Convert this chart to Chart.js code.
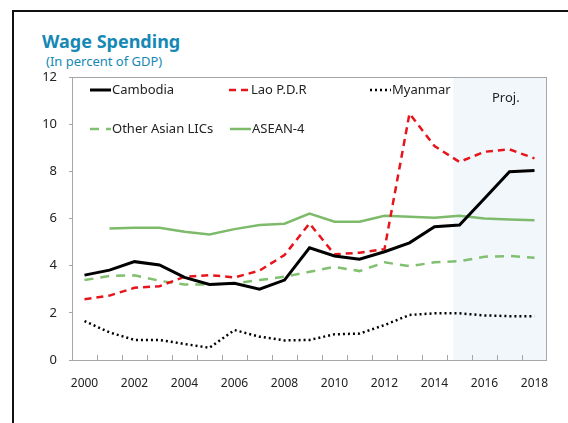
<!DOCTYPE html>
<html>
<head>
<meta charset="utf-8">
<script src="https://cdn.jsdelivr.net/npm/chart.js@4"></script>
<style>
  body { margin: 0; background: #fff; }
  #wrap { position: relative; width: 568px; height: 423px; overflow: hidden; font-family: "Noto Sans", sans-serif; }
  #frame { position: absolute; left: 12px; top: 10px; width: 600px; height: 450px; border: 2px solid #111; }
  #title { position: absolute; left: 42px; top: 29px; font-size: 18px; font-weight: bold; color: #1589b4; }
  #sub { position: absolute; left: 46px; top: 52px; font-size: 13px; color: #1589b4; }
  canvas { position: absolute; left: 0; top: 0; }
</style>
</head>
<body>
<div id="wrap">
  <div id="frame"></div>
  <div id="title">Wage Spending</div>
  <div id="sub">(In percent of GDP)</div>
  <canvas id="c" width="568" height="423"></canvas>
</div>
<script>
const years = ['2000','2001','2002','2003','2004','2005','2006','2007','2008','2009',
               '2010','2011','2012','2013','2014','2015','2016','2017','2018'];
const cambodia = [3.6, 3.81, 4.17, 4.03, 3.5, 3.2, 3.25, 3.0, 3.39, 4.76, 4.41, 4.27, 4.59, 4.97, 5.65, 5.72, 6.85, 7.98, 8.04];
const lao = [2.58, 2.73, 3.06, 3.13, 3.53, 3.6, 3.5, 3.79, 4.45, 5.79, 4.48, 4.55, 4.7, 10.45, 9.07, 8.4, 8.83, 8.93, 8.55];
const myanmar = [1.65, 1.17, 0.85, 0.85, 0.68, 0.52, 1.27, 0.99, 0.83, 0.85, 1.09, 1.12, 1.48, 1.91, 1.98, 1.98, 1.89, 1.86, 1.86];
const otherLics = [3.39, 3.56, 3.59, 3.36, 3.2, 3.2, 3.25, 3.39, 3.53, 3.74, 3.95, 3.77, 4.14, 3.98, 4.14, 4.19, 4.38, 4.41, 4.34];
const asean4 = [null, 5.58, 5.61, 5.61, 5.44, 5.32, 5.55, 5.72, 5.78, 6.21, 5.86, 5.86, 6.12, 6.07, 6.03, 6.12, 6.0, 5.96, 5.93];
const projStart = '2015';

const FONT = '"Noto Sans", sans-serif';

const series = [
  { label: 'Cambodia', data: cambodia, color: '#000000', width: 3, dash: [] },
  { label: 'Lao P.D.R', data: lao, color: '#e8141c', width: 2.5, dash: [7, 5] },
  { label: 'Myanmar', data: myanmar, color: '#000000', width: 2.5, dash: [2, 3] },
  { label: 'Other Asian LICs', data: otherLics, color: '#80c070', width: 2.5, dash: [9, 7] },
  { label: 'ASEAN-4', data: asean4, color: '#7dbb6b', width: 2.5, dash: [] }
];

// legend slots: [x of sample start, baseline row]
const legendPos = [[90, 90], [229, 90], [370, 90], [90, 129], [230, 129]];

const extras = {
  id: 'extras',
  beforeDatasetsDraw(chart) {
    const { ctx, chartArea: a, scales: { x } } = chart;
    const step = x.getPixelForValue(1) - x.getPixelForValue(0);
    const px = x.getPixelForValue(years.indexOf(projStart)) - step * 0.25;
    ctx.save();
    ctx.fillStyle = '#f2f7fb';
    ctx.fillRect(px, a.top, a.right - px, a.bottom - a.top);
    ctx.restore();
  },
  afterDraw(chart) {
    const { ctx, chartArea: a, scales: { x } } = chart;
    const step = x.getPixelForValue(1) - x.getPixelForValue(0);
    ctx.save();
    // box
    ctx.strokeStyle = '#a6a6a6';
    ctx.lineWidth = 1;
    ctx.strokeRect(a.left + 0.5, a.top + 0.5, a.right - a.left - 1, a.bottom - a.top);
    // inner ticks on x axis
    ctx.beginPath();
    for (let i = 1; i < years.length; i++) {
      const tx = Math.round(x.getPixelForValue(i) - step / 2) + 0.5;
      ctx.moveTo(tx, a.bottom);
      ctx.lineTo(tx, a.bottom - 5);
    }
    ctx.stroke();
    // Proj. label
    ctx.fillStyle = '#222';
    ctx.font = '13px ' + FONT;
    ctx.textBaseline = 'middle';
    ctx.fillText('Proj.', 492, 98);
    // legend
    series.forEach((s, i) => {
      const [lx, ly] = legendPos[i];
      ctx.strokeStyle = s.color;
      ctx.lineWidth = s.width;
      ctx.setLineDash(s.dash);
      ctx.beginPath();
      ctx.moveTo(lx, ly);
      ctx.lineTo(lx + 21, ly);
      ctx.stroke();
      ctx.setLineDash([]);
      ctx.fillStyle = '#222';
      ctx.fillText(s.label, lx + 22, ly);
    });
    ctx.restore();
  }
};

new Chart(document.getElementById('c'), {
  type: 'line',
  data: {
    labels: years,
    datasets: series.map(s => ({
      label: s.label,
      data: s.data,
      borderColor: s.color,
      borderWidth: s.width,
      borderDash: s.dash,
      pointRadius: 0,
      tension: 0,
      fill: false,
      spanGaps: false
    }))
  },
  options: {
    responsive: false,
    animation: false,
    layout: { padding: { left: 0, top: 77, right: 21, bottom: 0 } },
    plugins: { legend: { display: false }, tooltip: { enabled: false } },
    scales: {
      x: {
        offset: true,
        grid: { display: false },
        border: { display: false },
        ticks: {
          autoSkip: false,
          maxRotation: 0,
          padding: 8,
          color: '#222',
          font: { family: FONT, size: 12 },
          callback: (v, i) => (i % 2 === 0 ? years[i] : '')
        },
        afterFit: s => { s.height = 63; }
      },
      y: {
        min: 0,
        max: 12,
        ticks: { stepSize: 2, color: '#222', padding: 12, font: { family: FONT, size: 13 } },
        grid: { drawOnChartArea: false, tickLength: 3, color: '#a6a6a6' },
        border: { display: false },
        afterFit: s => { s.width = 72; }
      }
    }
  },
  plugins: [extras]
});
</script>
</body>
</html>
